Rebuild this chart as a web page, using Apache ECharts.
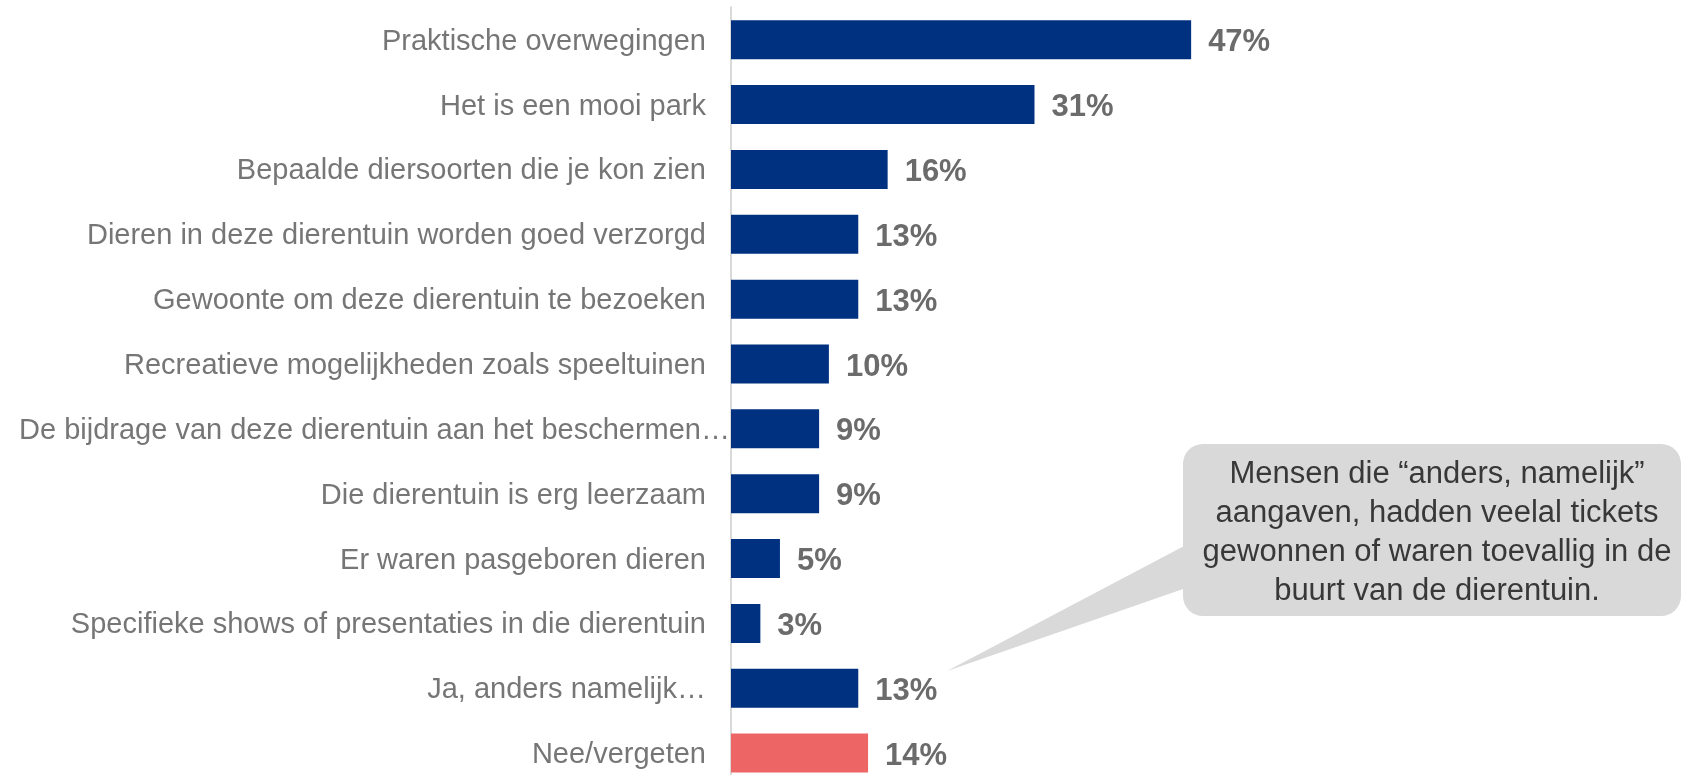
<!DOCTYPE html>
<html>
<head>
<meta charset="utf-8">
<script src="https://cdn.jsdelivr.net/npm/echarts@6/dist/echarts.min.js"></script>
<style>
  html, body { margin: 0; padding: 0; background: #fff; }
  #chart { width: 1683px; height: 775px; }
</style>
</head>
<body>
<div id="chart"></div>
<script>
// data
var categories = [
  'Praktische overwegingen',
  'Het is een mooi park',
  'Bepaalde diersoorten die je kon zien',
  'Dieren in deze dierentuin worden goed verzorgd',
  'Gewoonte om deze dierentuin te bezoeken',
  'Recreatieve mogelijkheden zoals speeltuinen',
  'De bijdrage van deze dierentuin aan het beschermen…',
  'Die dierentuin is erg leerzaam',
  'Er waren pasgeboren dieren',
  'Specifieke shows of presentaties in die dierentuin',
  'Ja, anders namelijk…',
  'Nee/vergeten'
];
var values = [47, 31, 16, 13, 13, 10, 9, 9, 5, 3, 13, 14];
var highlightIndex = 11; // Nee/vergeten
var calloutText = 'Mensen die “anders, namelijk”\naangaven, hadden veelal tickets\ngewonnen of waren toevallig in de\nbuurt van de dierentuin.';

var chart = echarts.init(document.getElementById('chart'));

var barData = values.map(function (v, i) {
  return {
    value: v,
    itemStyle: { color: i === highlightIndex ? '#ed6565' : '#003180' }
  };
});

var option = {
  animation: false,
  grid: {
    left: 731,
    top: 7.3,
    width: 587.4,
    height: 778.2,
    outerBoundsMode: 'none'
  },
  xAxis: {
    type: 'value',
    min: 0,
    max: 60,
    show: false
  },
  yAxis: {
    type: 'category',
    inverse: true,
    data: categories,
    axisLine: { show: true, lineStyle: { color: '#d9d9d9', width: 2 } },
    axisTick: { show: false },
    axisLabel: {
      margin: 25,
      padding: [4, 0, 0, 0],
      fontFamily: 'Liberation Sans, Arial, sans-serif',
      fontSize: 29,
      color: '#767676',
      formatter: function (v) {
        // the truncated label runs over the axis in the original
        if (v.charAt(v.length - 1) === '…' && v.length > 30) {
          return '{over|' + v + '}';
        }
        return v;
      },
      rich: {
        over: {
          fontFamily: 'Liberation Sans, Arial, sans-serif',
          fontSize: 29,
          color: '#767676',
          padding: [0, -24, 0, 0]
        }
      }
    }
  },
  series: [{
    type: 'bar',
    data: barData,
    barWidth: 39,
    label: {
      show: true,
      position: 'right',
      distance: 17,
      offset: [0, 3],
      formatter: '{c}%',
      fontFamily: 'Liberation Sans, Arial, sans-serif',
      fontSize: 31,
      fontWeight: 'bold',
      color: '#6b6b6b'
    }
  }],
  graphic: [
    {
      type: 'polygon',
      shape: { points: [[1186, 545], [1186, 588], [947, 671]] },
      style: { fill: '#d9d9d9' }
    },
    {
      type: 'rect',
      shape: { x: 1183, y: 444, width: 498, height: 172, r: 20 },
      style: { fill: '#d9d9d9' }
    },
    {
      type: 'text',
      x: 1437,
      y: 533,
      style: {
        text: calloutText,
        fontFamily: 'Liberation Sans, Arial, sans-serif',
        fontSize: 31,
        lineHeight: 38.8,
        fill: '#383838',
        align: 'center',
        verticalAlign: 'middle'
      }
    }
  ]
};

chart.setOption(option);
</script>
</body>
</html>
